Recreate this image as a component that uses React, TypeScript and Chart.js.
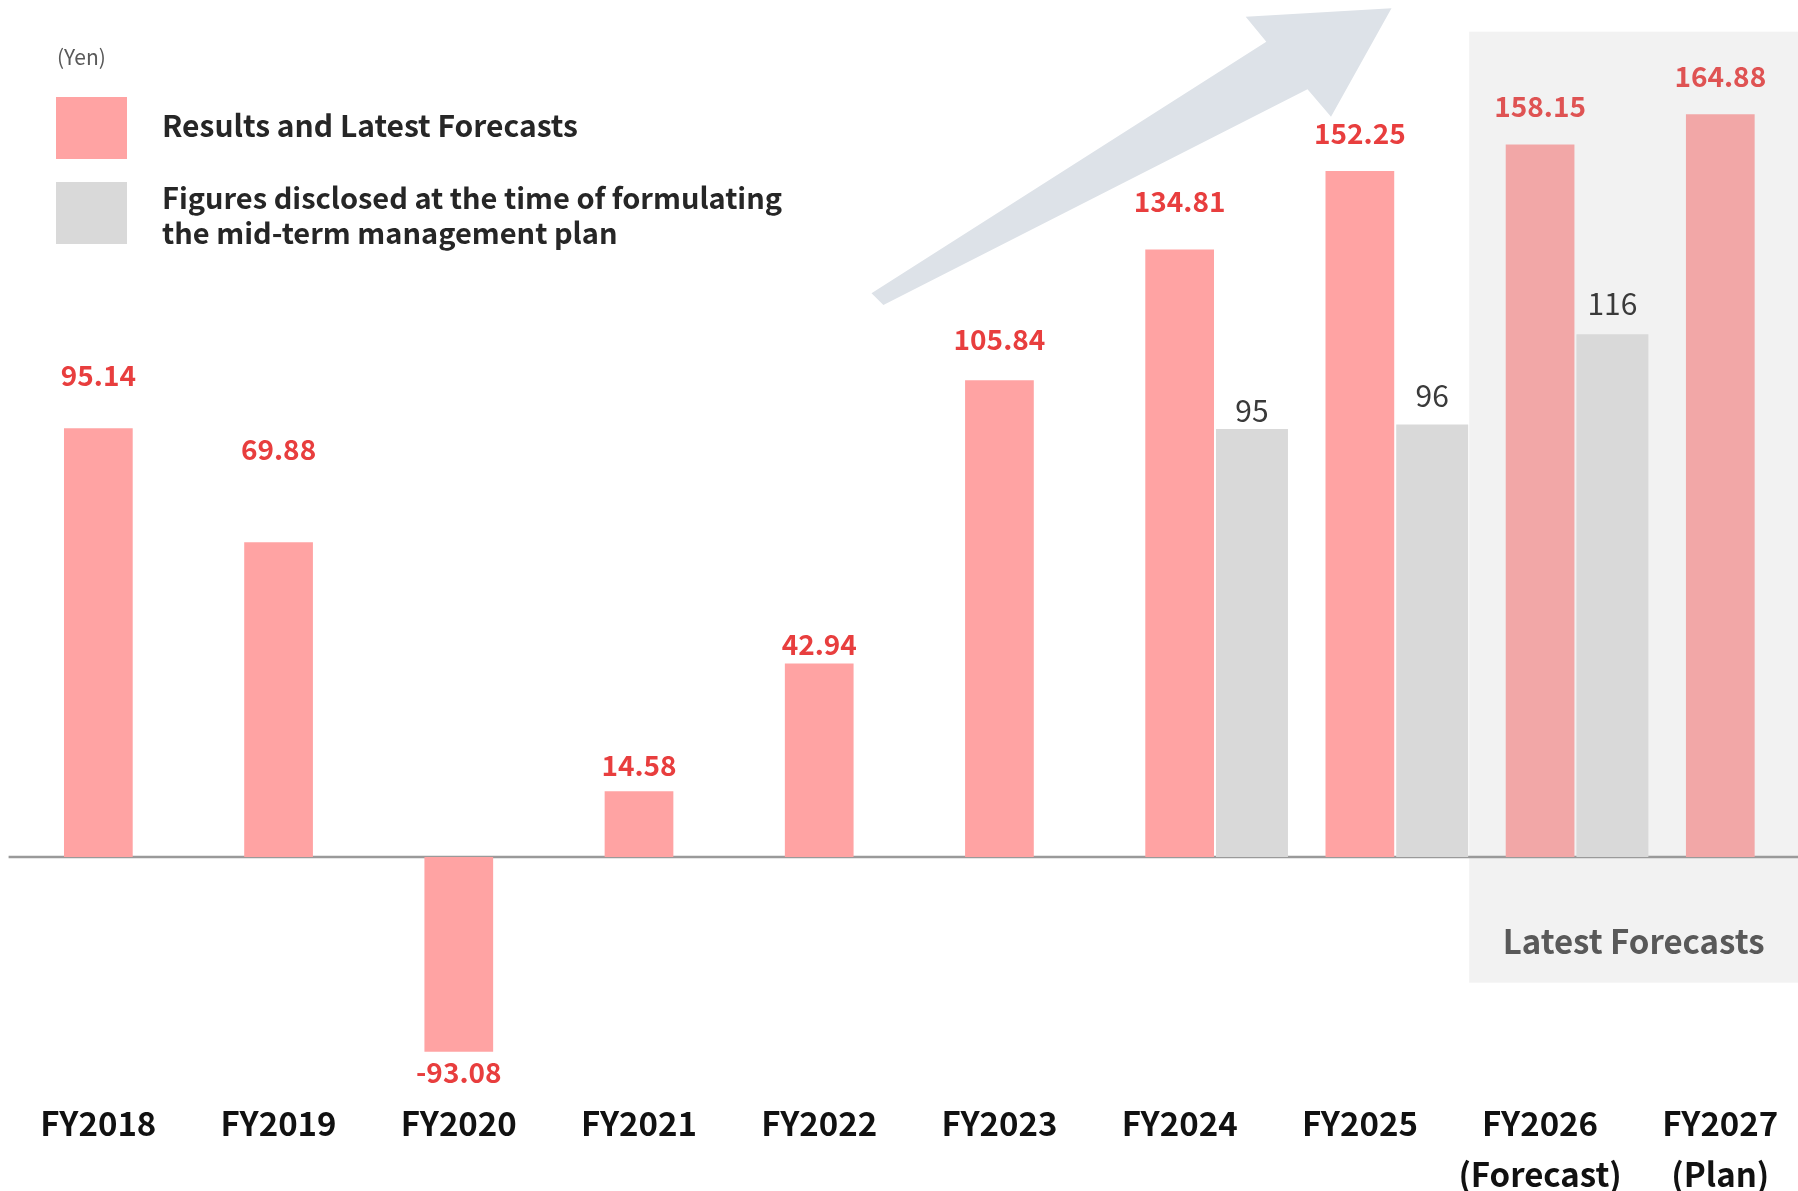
import React, { useEffect, useRef } from 'react';
import { Chart, registerables } from 'chart.js';

Chart.register(...registerables);

// ---------------- data ----------------
const tickLabels: (string | string[])[] = [
  'FY2018', 'FY2019', 'FY2020', 'FY2021', 'FY2022', 'FY2023', 'FY2024', 'FY2025',
  ['FY2026', '(Forecast)'], ['FY2027', '(Plan)'],
];
const resultsValues: number[] = [95.14, 69.88, -93.08, 14.58, 42.94, 105.84, 134.81, 152.25, 158.15, 164.88];
const planValues: (number | null)[] = [null, null, null, null, null, null, 95, 96, 116, null];
const legendResults = 'Results and Latest Forecasts';
const legendPlan = ['Figures disclosed at the time of formulating', 'the mid-term management plan'];
const unitLabel = '(Yen)';
const bandLabel = 'Latest Forecasts';
const forecastStart = 8; // first category inside the "Latest Forecasts" band

// ---------------- styles ----------------
const FONT = "'Noto Sans CJK JP', 'Noto Sans', sans-serif";
const PINK = '#FFA3A3';
const PINK_BAND = '#F2A7A7';
const GREY = '#D9D9D9';
const RED = '#E83E3E';
const RED_BAND = '#DF5353';
// label baseline distance from bar end (px)
const pinkLabelGap = [42.6, 82, 31, 15.4, 8.6, 30, 37.7, 27.4, 27, 27.3];
const greyLabelGap = [0, 0, 0, 0, 0, 0, 6.7, 17.7, 19.3, 0];

const decorPlugin = {
  id: 'decor',
  beforeDatasetsDraw(chart: any) {
    const { ctx } = chart;
    ctx.save();
    // forecast band
    const greyMeta = chart.getDatasetMeta(2);
    const prev: any = greyMeta.data[forecastStart - 1];
    const left = prev.x + prev.width / 2 + 1;
    const right = chart.width;
    const top = 31.7;
    const bottom = 982.7;
    ctx.fillStyle = '#F2F2F2';
    ctx.fillRect(left, top, right - left, bottom - top);
    ctx.fillStyle = '#595959';
    ctx.font = `bold 33px ${FONT}`;
    ctx.textAlign = 'center';
    ctx.textBaseline = 'alphabetic';
    ctx.fillText(bandLabel, (left + 1798) / 2, 954);

    // growth arrow
    ctx.fillStyle = '#DDE2E8';
    ctx.beginPath();
    ctx.moveTo(871.5, 293.3);
    ctx.lineTo(1266.3, 41.7);
    ctx.lineTo(1245.7, 16.7);
    ctx.lineTo(1391.5, 8.3);
    ctx.lineTo(1331, 116.7);
    ctx.lineTo(1307.5, 89.3);
    ctx.lineTo(883.4, 305);
    ctx.closePath();
    ctx.fill();
    ctx.restore();
  },
  beforeDatasetDraw(chart: any, args: any) {
    if (args.index !== 2) return;
    const { ctx } = chart;
    const y = chart.scales.y.getPixelForValue(0);
    ctx.save();
    ctx.strokeStyle = '#9A9A9A';
    ctx.lineWidth = 2.5;
    ctx.beginPath();
    ctx.moveTo(8.6, y);
    ctx.lineTo(chart.width, y);
    ctx.stroke();
    ctx.restore();
  },
  afterDatasetsDraw(chart: any) {
    const { ctx, chartArea } = chart;
    ctx.save();
    ctx.textAlign = 'center';
    ctx.textBaseline = 'alphabetic';
    const pinkMeta = chart.getDatasetMeta(1);
    pinkMeta.data.forEach((el: any, i: number) => {
      const v = resultsValues[i];
      ctx.font = `bold 28px ${FONT}`;
      ctx.fillStyle = i >= forecastStart ? RED_BAND : RED;
      const y = v >= 0 ? el.y - pinkLabelGap[i] : Math.min(el.y, chartArea.bottom) + pinkLabelGap[i];
      ctx.fillText(v.toFixed(2), el.x, y);
    });
    const greyMeta = chart.getDatasetMeta(2);
    greyMeta.data.forEach((el: any, i: number) => {
      const v = planValues[i];
      if (v === null || v === undefined) return;
      ctx.font = `30px ${FONT}`;
      ctx.fillStyle = '#3A3A3A';
      ctx.fillText(String(v), el.x, el.y - greyLabelGap[i]);
    });
    ctx.restore();
  },
  afterDraw(chart: any) {
    const { ctx } = chart;
    ctx.save();
    ctx.textAlign = 'left';
    ctx.textBaseline = 'alphabetic';
    ctx.fillStyle = '#595959';
    ctx.font = `21px ${FONT}`;
    ctx.fillText(unitLabel, 57, 65);
    ctx.fillStyle = PINK;
    ctx.fillRect(56, 97, 71, 62);
    ctx.fillStyle = GREY;
    ctx.fillRect(56, 182, 71, 62);
    ctx.fillStyle = '#262626';
    ctx.font = `bold 30px ${FONT}`;
    ctx.fillText(legendResults, 162, 137.3);
    ctx.font = `bold 29px ${FONT}`;
    ctx.fillText(legendPlan[0], 162, 209);
    ctx.fillText(legendPlan[1], 162, 244);
    ctx.restore();
  },
};

export default function App() {
  const canvasRef = useRef<HTMLCanvasElement | null>(null);

  useEffect(() => {
    if (!canvasRef.current) return;
    const chart = new Chart(canvasRef.current, {
      type: 'bar',
      data: {
        labels: tickLabels as any,
        datasets: [
          {
            label: 'spacer',
            data: tickLabels.map(() => null) as any,
            backgroundColor: 'rgba(0,0,0,0)',
            categoryPercentage: 1.204,
            barPercentage: 0.95,
          },
          {
            label: legendResults,
            data: resultsValues,
            backgroundColor: resultsValues.map((_, i) => (i >= forecastStart ? PINK_BAND : PINK)),
            borderWidth: 0,
            categoryPercentage: 1.204,
            barPercentage: 0.95,
            clip: { left: false, right: false, top: false, bottom: 0 } as any,
          },
          {
            label: legendPlan.join(' '),
            data: planValues as any,
            backgroundColor: GREY,
            borderWidth: 0,
            categoryPercentage: 1.204,
            barPercentage: 0.995,
          },
        ],
      },
      options: {
        responsive: false,
        animation: false,
        layout: { padding: { left: 98.35, right: 77.7, top: 46, bottom: 0 } },
        plugins: {
          legend: { display: false },
          tooltip: { enabled: false },
        },
        scales: {
          x: {
            offset: false,
            grid: { display: false, drawTicks: false },
            border: { display: false },
            ticks: {
              autoSkip: false,
              maxRotation: 0,
              minRotation: 0,
              padding: 46,
              color: '#111111',
              font: { family: FONT, size: 33, weight: 'bold', lineHeight: 1.55 },
            },
            afterFit: (scale: any) => {
              scale.height = 139.3;
              scale.paddingLeft = 0;
              scale.paddingRight = 0;
            },
          },
          y: {
            display: false,
            min: -43.2,
            max: 180,
          },
        },
      },
      plugins: [decorPlugin],
    });
    return () => chart.destroy();
  }, []);

  return (
    <div style={{ position: 'absolute', left: 0, top: 0, width: 1798, height: 1191, overflow: 'hidden', background: '#ffffff' }}>
      <canvas ref={canvasRef} width={1798} height={1191} style={{ display: 'block' }} />
    </div>
  );
}
